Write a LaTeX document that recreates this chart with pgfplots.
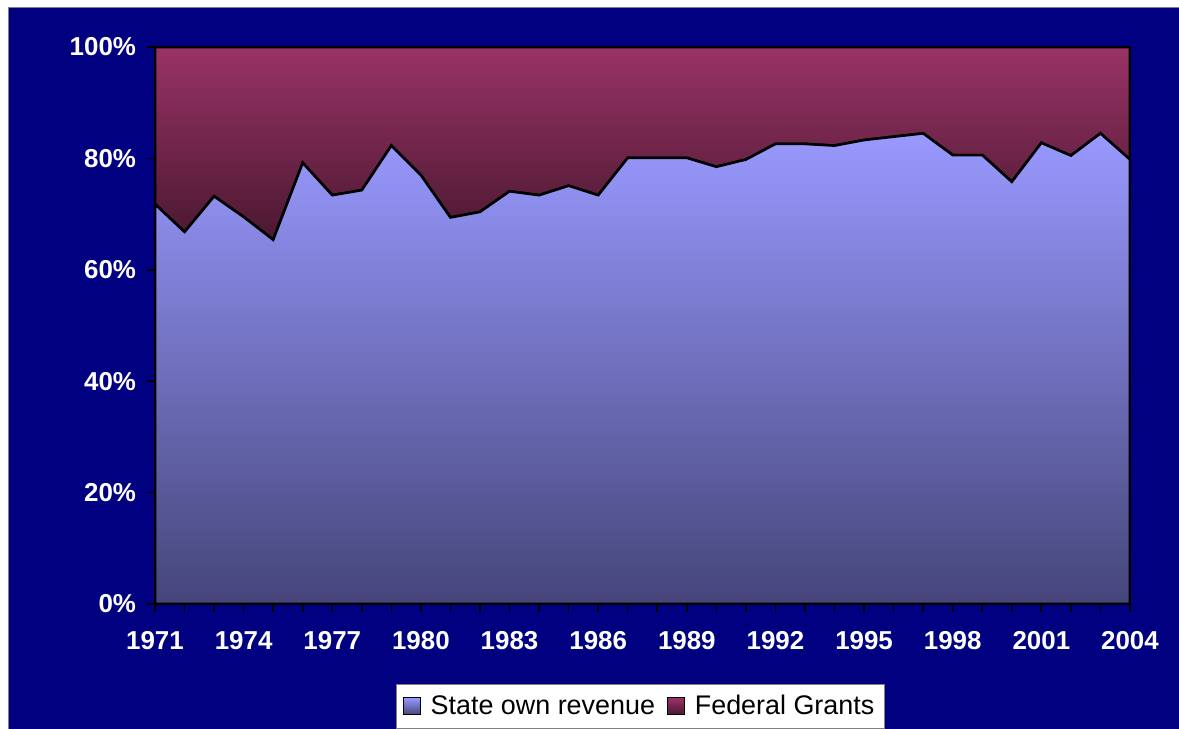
\documentclass[border=0pt]{standalone}
\usepackage{pgfplots}
\pgfplotsset{compat=1.18}
\usepackage{pgfplotstable}
\usepackage{fontspec}
\setmainfont{Liberation Sans}
\definecolor{navybg}{HTML}{000080}
\definecolor{statetop}{HTML}{9999FF}
\definecolor{statebot}{HTML}{45457A}
\definecolor{fedtop}{HTML}{993366}
\definecolor{fedbot}{HTML}{4A1830}

\pgfplotstableread{
year state fed
1971 71.8 28.2
1972 66.8 33.2
1973 73.2 26.8
1974 69.5 30.5
1975 65.4 34.6
1976 79.2 20.8
1977 73.4 26.6
1978 74.3 25.7
1979 82.3 17.7
1980 77.0 23.0
1981 69.4 30.6
1982 70.4 29.6
1983 74.1 25.9
1984 73.4 26.6
1985 75.1 24.9
1986 73.4 26.6
1987 80.1 19.9
1988 80.1 19.9
1989 80.1 19.9
1990 78.5 21.5
1991 79.8 20.2
1992 82.6 17.4
1993 82.6 17.4
1994 82.3 17.7
1995 83.3 16.7
1996 83.9 16.1
1997 84.5 15.5
1998 80.6 19.4
1999 80.6 19.4
2000 75.8 24.2
2001 82.8 17.2
2002 80.5 19.5
2003 84.5 15.5
2004 79.8 20.2
}\datatable

\begin{document}
\begin{tikzpicture}
\useasboundingbox (0bp,0bp) rectangle (589.5bp,-364.5bp);
\fill[white] (0bp,0bp) rectangle (589.5bp,-364.5bp);
\filldraw[fill=navybg, draw=gray, line width=0.8bp] (4.2bp,-3.8bp) rectangle (592bp,-366bp);
\begin{axis}[
  at={(77.5bp,-302bp)}, anchor=south west,
  scale only axis, width=487.5bp, height=278.5bp,
  xmin=1971, xmax=2004, ymin=0, ymax=100,
  stack plots=y,
  axis on top,
  axis line style={black, line width=1bp},
  tick style={black, line width=0.8bp},
  major tick length=4bp, minor tick length=4bp,
  tick align=outside,
  xtick pos=bottom, ytick pos=left,
  xtick={1971,1974,1977,1980,1983,1986,1989,1992,1995,1998,2001,2004},
  xticklabels={1971,1974,1977,1980,1983,1986,1989,1992,1995,1998,2001,2004},
  minor xtick={1971,...,2004},
  ytick={0,20,40,60,80,100},
  yticklabels={0\%,20\%,40\%,60\%,80\%,100\%},
  tick label style={white, font=\fontsize{13}{15}\selectfont\bfseries},
  xticklabel style={yshift=-6bp},
  yticklabel style={xshift=-2bp},
  legend style={at={(0.498,-0.1436)}, anchor=north, fill=white, draw=gray,
    font=\fontsize{13.5}{16}\selectfont, legend columns=2,
    inner xsep=3bp, inner ysep=3.5bp,
    /tikz/every even column/.append style={column sep=4bp}},
  legend image code/.code={\draw[#1,draw=black,line width=0.6bp] (0bp,-4bp) rectangle (8.5bp,4.5bp); \path (11bp,0bp);},
]
\addplot[draw=black, line width=1.3bp, top color=statetop, bottom color=statebot]
  table[x=year,y=state]{\datatable} \closedcycle;
\addplot[draw=black, line width=1.3bp, top color=fedtop, bottom color=fedbot]
  table[x=year,y=fed]{\datatable} \closedcycle;
\legend{State own revenue, Federal Grants}
\end{axis}
\end{tikzpicture}
\end{document}
